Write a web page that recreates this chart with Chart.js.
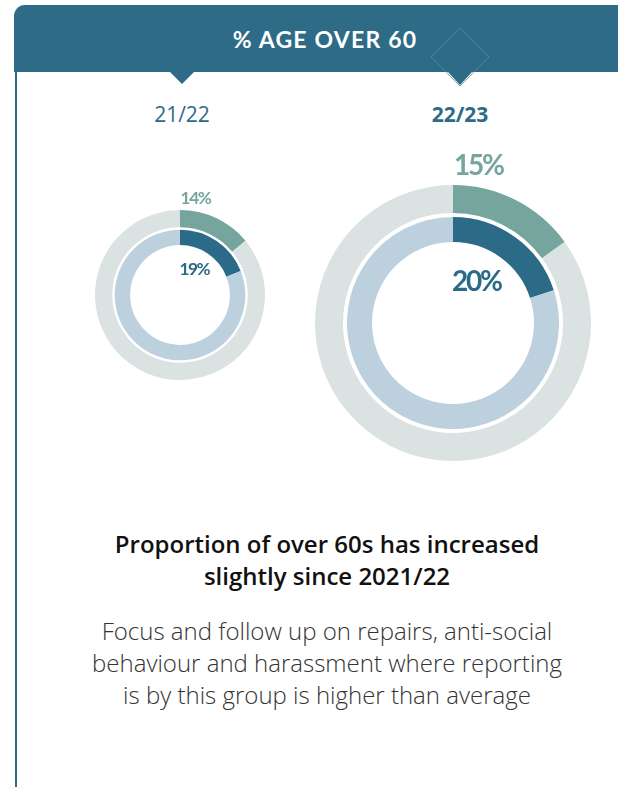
<!DOCTYPE html>
<html>
<head>
<meta charset="utf-8">
<script src="https://cdn.jsdelivr.net/npm/chart.js@4.4.1/dist/chart.umd.min.js"></script>
<style>
  html, body { margin: 0; padding: 0; background: #fff; }
  body { width: 618px; height: 787px; position: relative; overflow: hidden; font-family: 'Open Sans', sans-serif; }
  .header { position: absolute; left: 14px; top: 5px; width: 640px; height: 67px; background: #2d6b87; border-top-left-radius: 11px; }
  .header-title { position: absolute; left: 0; width: 622px; top: 0; height: 67px; line-height: 69px; text-align: center; color: #fff; font-family: Lato, sans-serif; font-weight: 700; font-size: 23px; letter-spacing: 1.2px; }
  .rail { position: absolute; left: 14.5px; top: 72px; width: 2.5px; height: 715px; background: #2d6b87; }
  .deco { position: absolute; left: 0; top: 0; }
  .season { position: absolute; top: 100px; width: 120px; text-align: center; color: #2d6b87; font-size: 21px; }
  .ring { position: absolute; }
  .headline { position: absolute; left: 14px; width: 626px; top: 528px; text-align: center; color: #111; font-weight: 600; font-size: 24px; line-height: 32px; }
  .note { position: absolute; left: 14px; width: 626px; top: 615px; text-align: center; color: #333; font-weight: 300; font-size: 24px; line-height: 32px; }
</style>
</head>
<body>
<div class="header"><div class="header-title">% AGE OVER 60</div></div>
<div class="rail"></div>
<svg class="deco" width="618" height="100">
  <!-- outlined diamond in the banner and the two pointers under it -->
  <path d="M460 28 L489 57 L460 86 L431 57 Z" fill="none" stroke="#4f8aa3" stroke-width="0.8"/>
  <path d="M448 72 L472 72 L460 85 Z" fill="#2d6b87"/>
  <path d="M170 72 L194 72 L182 84 Z" fill="#2d6b87"/>
</svg>
<div class="season" id="season0" style="left:122px;"></div>
<div class="season" id="season1" style="left:400px;font-weight:700;"></div>
<div class="ring" id="wrap0"><canvas id="ring0"></canvas></div>
<div class="ring" id="wrap1"><canvas id="ring1"></canvas></div>
<div class="headline">Proportion of over 60s has increased<br>slightly since 2021/22</div>
<div class="note">Focus and follow up on repairs, anti-social<br>behaviour and harassment where reporting<br>is by this group is higher than average</div>

<script>
// --- data ---
const seasons = ['21/22', '22/23'];
const outerPct = [14, 15];   // outer teal ring
const innerPct = [19, 20];   // inner dark ring

// ring geometry per season: centre and outer radius
const ringCentres = [[180, 295.3], [453, 322.5]];
const ringRadius = [85, 138];

const TEAL = '#76a59e';
const TEAL_BG = '#dae3e2';
const DARK = '#2c6b87';
const DARK_BG = '#bdd0dd';

seasons.forEach((s, i) => {
    document.getElementById('season' + i).textContent = s;
});

// writes the two percentages next to the start of each ring
const pctLabels = {
    id: 'pctLabels',
    afterDraw(chart) {
        const s = chart.$scale;
        const outerArc = chart.getDatasetMeta(0).data[0];
        const innerArc = chart.getDatasetMeta(2).data[0];
        const ctx = chart.ctx;
        ctx.save();
        ctx.textAlign = 'left';
        ctx.textBaseline = 'alphabetic';
        ctx.font = `700 ${(28 * s).toFixed(1)}px Lato`;
        ctx.letterSpacing = (-2.2 * s).toFixed(1) + 'px';
        ctx.fillStyle = TEAL;
        ctx.fillText(chart.$outer + '%', outerArc.x + 1 * s, outerArc.y - outerArc.outerRadius - 10 * s);
        ctx.fillStyle = DARK;
        ctx.fillText(chart.$inner + '%', innerArc.x - 1 * s, innerArc.y - innerArc.innerRadius + 49 * s);
        ctx.restore();
    }
};

seasons.forEach((season, i) => {
    const r = ringRadius[i];
    const s = r / 138;
    const top = Math.round(42 * s);
    const wrap = document.getElementById('wrap' + i);
    wrap.style.left = (ringCentres[i][0] - r) + 'px';
    wrap.style.top = (ringCentres[i][1] - r - top) + 'px';
    wrap.style.width = (2 * r) + 'px';
    wrap.style.height = (2 * r + top) + 'px';

    const chart = new Chart(document.getElementById('ring' + i), {
        type: 'doughnut',
        data: {
            labels: ['Over 60', 'Other'],
            datasets: [
                { data: [outerPct[i], 100 - outerPct[i]], backgroundColor: [TEAL, TEAL_BG], weight: 28 },
                // white gap between the two rings
                { data: [100], backgroundColor: ['rgba(0,0,0,0)'], weight: 4 },
                { data: [innerPct[i], 100 - innerPct[i]], backgroundColor: [DARK, DARK_BG], weight: 25 }
            ]
        },
        options: {
            responsive: true,
            maintainAspectRatio: false,
            animation: false,
            cutout: '58.7%',
            borderWidth: 0,
            hoverOffset: 0,
            layout: { padding: { top: top } },
            plugins: { legend: { display: false }, tooltip: { enabled: false } },
            elements: { arc: { borderWidth: 0 } }
        },
        plugins: [pctLabels]
    });
    chart.$scale = s;
    chart.$outer = outerPct[i];
    chart.$inner = innerPct[i];
    chart.draw();
});
</script>
</body>
</html>
